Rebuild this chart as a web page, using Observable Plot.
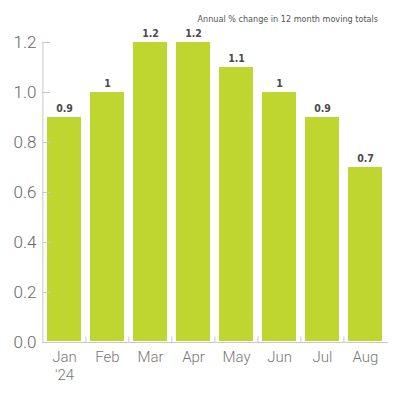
<!DOCTYPE html>
<html>
<head>
<meta charset="utf-8">
<script src="https://cdn.jsdelivr.net/npm/d3@7"></script>
<script src="https://cdn.jsdelivr.net/npm/@observablehq/plot@0.6"></script>
<style>
  body { margin: 0; background: #fff; }
  #chart { width: 400px; }
  #title {
    height: 28px;
    box-sizing: border-box;
    padding: 14px 22px 0 0;
    text-align: right;
    font: 9px "DejaVu Sans Condensed", "DejaVu Sans", sans-serif;
    color: #555;
  }
</style>
</head>
<body>
<div id="chart">
  <div id="title">Annual % change in 12 month moving totals</div>
  <div id="graph"></div>
</div>
<script>
const months = ["Jan", "Feb", "Mar", "Apr", "May", "Jun", "Jul", "Aug"];
const monthLabels = ["Jan\n'24", "Feb", "Mar", "Apr", "May", "Jun", "Jul", "Aug"];
const values = [0.9, 1.0, 1.2, 1.2, 1.1, 1.0, 0.9, 0.7];
const barLabels = ["0.9", "1", "1.2", "1.2", "1.1", "1", "0.9", "0.7"];
const yTicks = [0, 0.2, 0.4, 0.6, 0.8, 1.0, 1.2];

const data = months.map((m, i) => ({ month: m, value: values[i], label: barLabels[i] }));

const width = 400;
const marginLeft = 42;
const marginRight = 12;
const plotWidth = width - marginLeft - marginRight;
const step = plotWidth / months.length;

const graphContainer = document.getElementById("graph");

const chart = Plot.plot({
  width: width,
  height: 372,
  marginTop: 14,
  marginBottom: 58,
  marginLeft: marginLeft,
  marginRight: marginRight,
  style: { background: "#fff" },
  x: {
    domain: months,
    paddingInner: 0.2,
    paddingOuter: 0.1,
    label: null,
  },
  y: {
    domain: [0, 1.2],
    label: null,
  },
  marks: [
    Plot.barY(data, { x: "month", y: "value", fill: "#bfd630", insetBottom: 1 }),
    Plot.text(data, {
      x: "month",
      y: "value",
      text: "label",
      dy: -9,
      fontSize: 10.5,
      fontWeight: 600,
      fontFamily: "DejaVu Sans Condensed",
      fill: "#4a4a4a",
    }),
    // y axis: line, inward ticks, labels
    Plot.ruleX([0], { x: () => months[0], y1: 0, y2: 1.2, dx: -step * 0.1 - (step * 0.8) / 2, stroke: "#c8c8c8" }),
    Plot.ruleY(yTicks, { insetRight: plotWidth - 8, stroke: "#c8c8c8" }),
    Plot.axisY({
      ticks: yTicks,
      tickSize: 0,
      tickPadding: 6,
      tickFormat: (d) => d.toFixed(1),
      fontSize: 17,
      fontFamily: "Roboto",
      fontWeight: 300,
      color: "#666",
    }),
    // x axis: baseline, separator ticks, labels
    Plot.ruleY([0], { stroke: "#c8c8c8" }),
    Plot.ruleX(months.slice(1), { x: (d) => d, y1: 0, y2: 0.022, dx: -step / 2, stroke: "#c8c8c8" }),
    Plot.axisX({
      tickSize: 0,
      tickPadding: 7,
      tickFormat: (d) => monthLabels[months.indexOf(d)],
      lineHeight: 1.2,
      fontSize: 15,
      fontFamily: "Roboto",
      fontWeight: 300,
      color: "#777",
    }),
  ],
});

graphContainer.appendChild(chart);
</script>
</body>
</html>
